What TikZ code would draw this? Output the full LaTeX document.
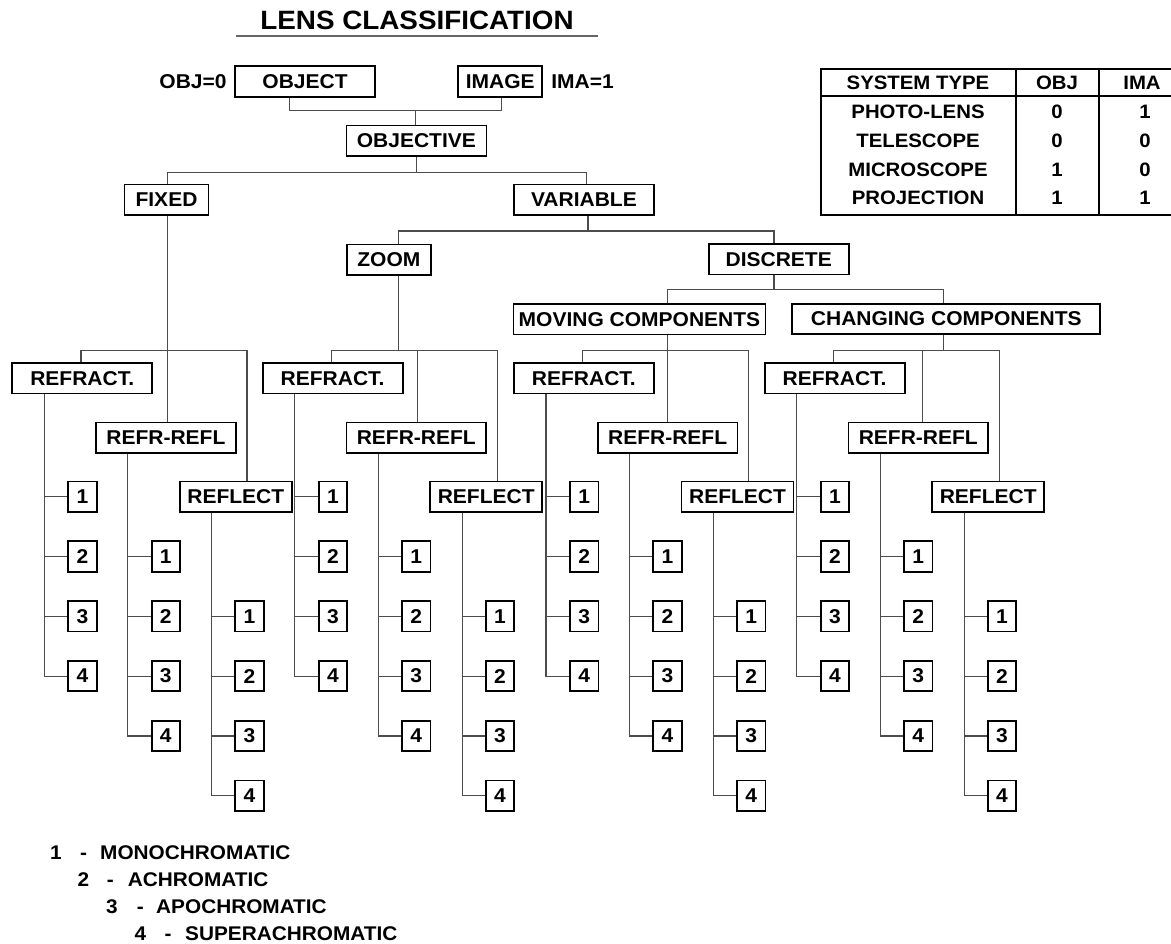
\documentclass[tikz,border=0pt]{standalone}
\usepackage{fontspec}
\setmainfont{Liberation Sans}[FakeStretch=1.05]
\newcommand{\lenssub}[3]{% #1 prefix, #2 x offset, #3 x of middle connector
  \node[bx, minimum width=140pt] (#1rf) at ({#2+82.2},378.3) {REFRACT.};
  \node[bx, minimum width=139.7pt] (#1rr) at ({#2+165.9},437.7) {REFR-REFL};
  \node[bx, minimum width=112pt] (#1rl) at ({#2+235.8},496.7) {REFLECT};
  \foreach \k/\yy in {1/496.7,2/556.6,3/616.3,4/676.1}
    \node[dg] (#1a\k) at ({#2+82.5},\yy) {\k};
  \foreach \k/\yy in {1/556.6,2/616.3,3/676.1,4/736}
    \node[dg] (#1b\k) at ({#2+165.8},\yy) {\k};
  \foreach \k/\yy in {1/616.3,2/676.1,3/736,4/795.8}
    \node[dg] (#1c\k) at ({#2+249.5},\yy) {\k};
  \coordinate (#1h) at (#3,350.7);
  \coordinate (#1ta) at ({#2+44.3},0);
  \coordinate (#1tb) at ({#2+127.7},0);
  \coordinate (#1tc) at ({#2+211.7},0);
  \draw[conn] ([xshift=-1.2pt]#1rf.north) |- (#1h) -| ([xshift=11.2pt]#1rl.north);
  \draw[conn] (#1h) -- (#1h |- #1rr.north);
  \draw[conn] (#1rf.south -| #1ta) |- (#1a4.west);
  \draw[conn] (#1rr.south -| #1tb) |- (#1b4.west);
  \draw[conn] (#1rl.south -| #1tc) |- (#1c4.west);
  \foreach \k in {1,2,3}{
    \draw[conn] (#1a\k.west -| #1ta) -- (#1a\k.west);
    \draw[conn] (#1b\k.west -| #1tb) -- (#1b\k.west);
    \draw[conn] (#1c\k.west -| #1tc) -- (#1c\k.west);
  }
}
\begin{document}
\begin{tikzpicture}[x=1pt,y=-1pt,
  lbl/.style={font=\fontsize{20}{24}\selectfont\bfseries, inner sep=0pt},
  bx/.style={lbl, draw=black, line width=1.8pt, minimum height=30.5pt, anchor=center},
  dg/.style={bx, minimum width=28.4pt},
  conn/.style={draw=black!70, line width=1.1pt},
  tline/.style={draw=black, line width=2pt},
  tt/.style={font=\fontsize{19.4}{23}\selectfont\bfseries, inner sep=0pt},
  lg/.style={font=\fontsize{19.8}{23}\selectfont\bfseries, inner sep=0pt, anchor=base west}]
\useasboundingbox (0,0) rectangle (1171,944);
\fill[white] (0,0) rectangle (1171,944);

% title
\node[font=\fontsize{26.5}{30}\selectfont\bfseries, inner sep=0pt] (title) at (417,20) {LENS CLASSIFICATION};
\coordinate (u1) at (235.7,36);
\coordinate (u2) at (598.2,36);
\draw[black!60, line width=1.5pt] (u1) -- (u2);

% top nodes
\node[bx, minimum width=140pt] (obj) at (305,81.4) {OBJECT};
\node[bx, minimum width=84pt] (ima) at (500.2,81.4) {IMAGE};
\node[lbl] (objeq) at (193,81.7) {OBJ=0};
\node[lbl] (imaeq) at (582.5,81.7) {IMA=1};
\node[bx, minimum width=140pt] (objective) at (416.4,140.7) {OBJECTIVE};
\node[bx, minimum width=84pt] (fixed) at (166.5,199.7) {FIXED};
\node[bx, minimum width=140pt] (variable) at (583.9,199.7) {VARIABLE};
\node[bx, minimum width=84pt] (zoom) at (388.9,259.7) {ZOOM};
\node[bx, minimum width=140pt] (discrete) at (778.7,259.3) {DISCRETE};
\node[bx, minimum width=252pt] (moving) at (639.5,319.3) {MOVING COMPONENTS};
\node[bx, minimum width=308pt] (changing) at (946.3,319) {CHANGING COMPONENTS};

% top connectors
\coordinate (j0) at (415.4,110.7);
\draw[conn] ([xshift=-15.7pt]obj.south) |- (j0) -| ([xshift=1.6pt]ima.south);
\draw[conn] (j0) -- (j0 |- objective.north);
\coordinate (j1) at (416.4,172.3);
\draw[conn] (objective.south -| j1) -- (j1);
\draw[conn] ([xshift=1pt]fixed.north) |- (j1) -| ([xshift=3pt]variable.north);
\coordinate (j2) at (588,231);
\draw[conn] (variable.south -| j2) -- (j2);
\draw[conn] ([xshift=9.6pt]zoom.north) |- (j2) -| ([xshift=-4.7pt]discrete.north);
\coordinate (j3) at (774,289.3);
\draw[conn] (discrete.south -| j3) -- (j3);
\draw[conn] ([xshift=28.2pt]moving.north) |- (j3) -| ([xshift=-3pt]changing.north);

% subtrees
\lenssub{s1}{0}{167.5}
\lenssub{s2}{250.4}{417.7}
\lenssub{s3}{501.7}{667.7}
\lenssub{s4}{752.4}{922.3}

\draw[conn] ([xshift=1pt]fixed.south) -- ([xshift=1pt]fixed.south |- s1h);
\draw[conn] ([xshift=9.6pt]zoom.south) -- ([xshift=9.6pt]zoom.south |- s2h);
\draw[conn] ([xshift=28.2pt]moving.south) -- ([xshift=28.2pt]moving.south |- s3h);
\draw[conn] ([xshift=-3pt]changing.south) -- ([xshift=-3pt]changing.south |- s4h);

% table
\draw[tline] (1171,69.4) -- (820.7,69.4) -- (820.7,215) -- (1171,215);
\draw[tline] (820.7,96) -- (1171,96);
\draw[tline] (1016,69.4) -- (1016,215);
\draw[tline] (1099,69.4) -- (1099,215);
\node[tt] (th1) at (918,82.7) {SYSTEM TYPE};
\node[tt] (th2) at (1057,82.7) {OBJ};
\node[tt] (th3) at (1142,82.7) {IMA};
\node[tt] (tr1) at (918,111.7) {PHOTO-LENS};
\node[tt] (tr2) at (918,140.7) {TELESCOPE};
\node[tt] (tr3) at (918,169.5) {MICROSCOPE};
\node[tt] (tr4) at (918,198.3) {PROJECTION};
\node[tt] (to1) at (1057,111.7) {0};
\node[tt] (to2) at (1057,140.7) {0};
\node[tt] (to3) at (1057,169.5) {1};
\node[tt] (to4) at (1057,198.3) {1};
\node[tt] (ti1) at (1145,111.7) {1};
\node[tt] (ti2) at (1145,140.7) {0};
\node[tt] (ti3) at (1145,169.5) {0};
\node[tt] (ti4) at (1145,198.3) {1};

% legend
\node[lg] (l1n) at (50,859) {1};
\node[lg] (l1d) at (80,859) {-};
\node[lg] (l1t) at (100,859) {MONOCHROMATIC};
\node[lg] (l2n) at (77.3,886) {2};
\node[lg] (l2d) at (106.7,886) {-};
\node[lg] (l2t) at (127.7,886) {ACHROMATIC};
\node[lg] (l3n) at (106,913) {3};
\node[lg] (l3d) at (136.7,913) {-};
\node[lg] (l3t) at (156,913) {APOCHROMATIC};
\node[lg] (l4n) at (134.3,940) {4};
\node[lg] (l4d) at (164.3,940) {-};
\node[lg] (l4t) at (185,940) {SUPERACHROMATIC};
\end{tikzpicture}
\end{document}
